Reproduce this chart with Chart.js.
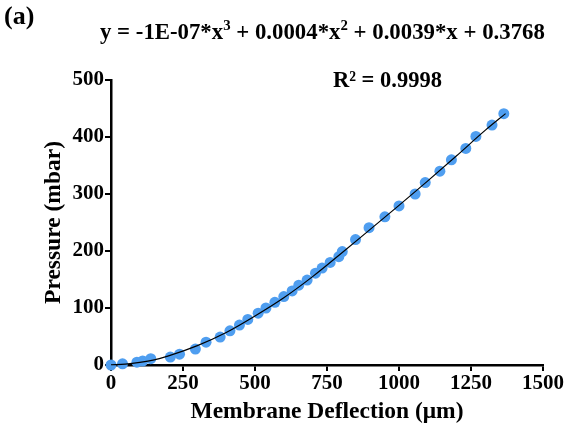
<!DOCTYPE html>
<html><head><meta charset="utf-8">
<script src="https://cdn.jsdelivr.net/npm/chart.js@4/dist/chart.umd.min.js"></script>
<style>
html,body{margin:0;padding:0;background:#fff;}
#wrap{position:relative;width:566px;height:434px;}
canvas{position:absolute;left:0;top:0;}
.t{position:absolute;font-family:"Liberation Serif","Times New Roman",serif;font-weight:bold;color:#000;white-space:nowrap;line-height:1;}
.t sup{font-size:0.65em;line-height:0;}
</style></head>
<body><div id="wrap">
<canvas id="c" width="566" height="434"></canvas>
<div class="t" style="left:4px;top:3px;font-size:26px;">(a)</div>
<div class="t" style="left:100px;top:21px;font-size:22.8px;">y = -1E-07*x<sup>3</sup> + 0.0004*x<sup>2</sup> + 0.0039*x + 0.3768</div>
<div class="t" style="left:333px;top:69px;font-size:22.5px;">R² = 0.9998</div>
</div>
<script>
const deflection = [0,40,90,110,138,206,238,293,330,379,413,446,475,511,538,569,600,629,652,681,710,733,761,791,803,849,896,951,1000,1056,1091,1142,1182,1232,1267,1323,1364];
const pressure   = [0,2,5,7,11,14,19,28,40,49,60,70,80,91,100,110,120,130,140,149,161,170,180,190,199,220,241,260,279,300,320,340,360,380,401,421,441];
const fitX = [0,50,100,150,200,300,400,500,600,700,800,900,1000,1100,1200,1300,1370];
const fitY = [0.4,1.5,4.5,9,16,34,57,86,118,155,196,238,280,323,367,412,441];
const xTicks = [0,250,500,750,1000,1250,1500];
const yTicks = [0,100,200,300,400,500];

const pts = deflection.map((x,i)=>({x:x,y:pressure[i]}));
const fit = fitX.map((x,i)=>({x:x,y:fitY[i]}));
const tickFont = {family:"Liberation Serif", weight:"bold", size:21};
const titleFont = {family:"Liberation Serif", weight:"bold", size:23.5};

new Chart(document.getElementById('c'), {
  type:'scatter',
  data:{datasets:[
    {data:fit, showLine:true, borderColor:'#000', borderWidth:1.2, pointRadius:0, tension:0.4, order:0, cubicInterpolationMode:'monotone', clip:false},
    {data:pts, backgroundColor:'#4f9ef0', borderWidth:0, pointRadius:5.5, order:1, clip:false}
  ]},
  options:{
    responsive:false, animation:false,
    plugins:{legend:{display:false}, tooltip:{enabled:false}},
    layout:{padding:{top:80,right:23,left:0,bottom:0}},
    scales:{
      x:{type:'linear', min:0, max:1500,
        afterBuildTicks:s=>{s.ticks=xTicks.map(v=>({value:v}));},
        afterFit:s=>{s.height=69;},
        ticks:{color:'#000', font:tickFont, padding:0, maxRotation:0, callback:v=>String(v)},
        grid:{display:true, drawOnChartArea:false, drawTicks:true, tickLength:6, color:'#000', lineWidth:2},
        border:{display:true, color:'#000', width:2.5},
        title:{display:true, text:'Membrane Deflection (μm)', color:'#000', font:titleFont, padding:{top:0,bottom:8}}
      },
      y:{type:'linear', min:0, max:500,
        afterBuildTicks:s=>{s.ticks=yTicks.map(v=>({value:v}));},
        afterFit:s=>{s.width=111;},
        ticks:{color:'#000', font:tickFont, padding:1, callback:v=>String(v)},
        grid:{display:true, drawOnChartArea:false, drawTicks:true, tickLength:6, color:'#000', lineWidth:2},
        border:{display:true, color:'#000', width:2.5},
        title:{display:true, text:'Pressure (mbar)', color:'#000', font:titleFont, padding:{top:40,bottom:0}}
      }
    }
  }
});
</script>
</body></html>
